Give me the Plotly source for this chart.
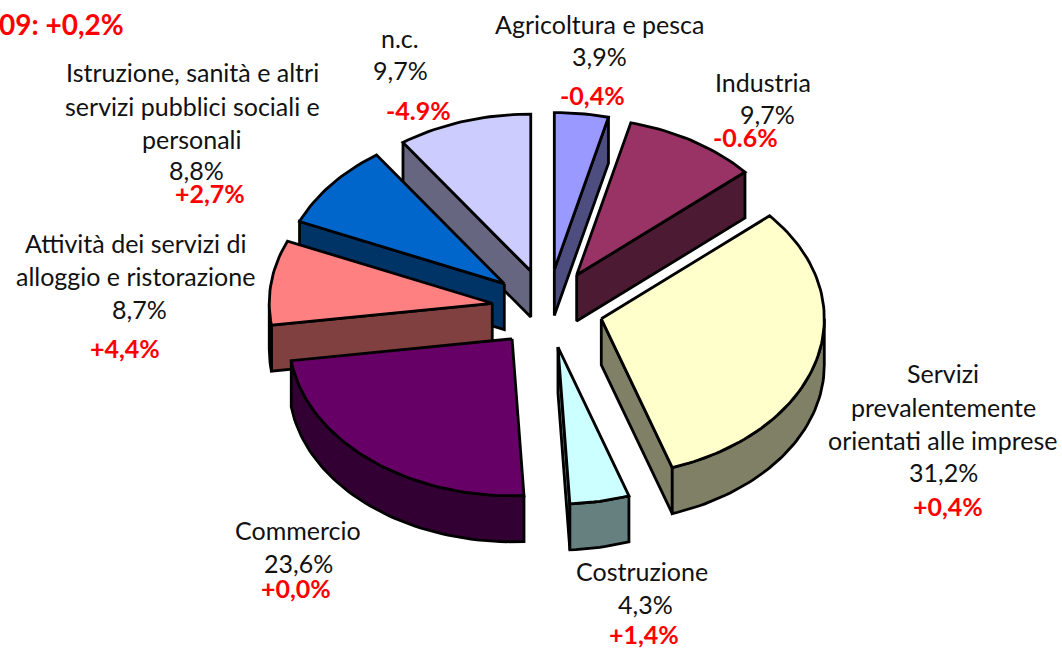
import math
import plotly.graph_objects as go

categories = ["Agricoltura e pesca", "Industria", "Servizi prevalentemente orientati alle imprese",
              "Costruzione", "Commercio", "Attività dei servizi di alloggio e ristorazione",
              "Istruzione, sanità e altri servizi pubblici sociali e personali", "n.c."]
shares = [3.9, 9.7, 31.2, 4.3, 23.6, 8.7, 8.8, 9.7]
top_colors = ["#9999ff", "#993366", "#ffffcc", "#ccffff", "#660066", "#ff8080", "#0066cc", "#ccccff"]
side_colors = ["#4d4d80", "#4d1a33", "#808066", "#668080", "#330033", "#804040", "#003366", "#666680"]
draw_order = [7, 0, 1, 6, 5, 2, 3, 4]

black_labels = [("Agricoltura e pesca", 599, 24), ("3,9%", 599, 56),
                ("Industria", 763, 82), ("9,7%", 767, 114),
                ("Servizi", 943, 373), ("prevalentemente", 943, 407),
                ("orientati alle imprese", 943, 440), ("31,2%", 943, 472),
                ("Costruzione", 642, 571), ("4,3%", 645, 604),
                ("Commercio", 298, 530), ("23,6%", 298, 563),
                ("Attività dei servizi di", 135, 243), ("alloggio e ristorazione", 135, 276), ("8,7%", 139, 309),
                ("Istruzione, sanità e altri", 192, 72), ("servizi pubblici sociali e", 192, 106),
                ("personali", 192, 139), ("8,8%", 196, 170),
                ("n.c.", 400, 38), ("9,7%", 400, 70)]
red_labels = [("-0,4%", 592, 95), ("-0.6%", 745, 137), ("+0,4%", 948, 506), ("+1,4%", 644, 634),
              ("+0,0%", 296, 588), ("+4,4%", 125, 348), ("+2,7%", 210, 193), ("-4.9%", 418, 110)]
red_header = ("09: +0,2%", 124, 24)

W, H = 1062, 648
CX, CY, RX, RY = 547.5, 308.5, 223, 157   # pie centre and ellipse radii in page pixels
EX, EY = 0.25, 0.25                       # explosion, as a fraction of the radius
DEPTH = 46 / 157                          # extrusion, as a fraction of the radius

total = sum(shares)
edges = [0]
for s in shares:
    edges.append(edges[-1] + s / total * 360)


def rim(a, b, ox, oy, dz=0.0):
    n = max(2, int(abs(b - a) / 1.5) + 1)
    pts = [a + (b - a) * i / (n - 1) for i in range(n)]
    return ([ox + math.sin(math.radians(t)) for t in pts],
            [oy + math.cos(math.radians(t)) - dz for t in pts])


fig = go.Figure()


def poly(xs, ys, fill):
    fig.add_trace(go.Scatter(x=xs, y=ys, mode="lines", fill="toself", fillcolor=fill,
                             line=dict(color="black", width=2.8, shape="linear"),
                             hoverinfo="skip", showlegend=False))


for i in draw_order:
    a, b = edges[i], edges[i + 1]
    mid = math.radians((a + b) / 2)
    ox, oy = EX * math.sin(mid), EY * math.cos(mid)
    for t, front in ((a, math.sin(math.radians(a)) < 0), (b, math.sin(math.radians(b)) > 0)):
        if front:
            ex, ey = ox + math.sin(math.radians(t)), oy + math.cos(math.radians(t))
            poly([ox, ex, ex, ox, ox], [oy, ey, ey - DEPTH, oy - DEPTH, oy], side_colors[i])
    lo, hi = max(a, 90), min(b, 270)
    if hi > lo:
        x1, y1 = rim(lo, hi, ox, oy)
        x2, y2 = rim(hi, lo, ox, oy, DEPTH)
        poly(x1 + x2 + x1[:1], y1 + y2 + y1[:1], side_colors[i])
    xr, yr = rim(a, b, ox, oy)
    poly([ox] + xr + [ox], [oy] + yr + [oy], top_colors[i])

FONT = "Lato"
for txt, px, py in black_labels:
    fig.add_annotation(x=px / W, y=1 - py / H, xref="paper", yref="paper", text=txt, showarrow=False,
                       xanchor="center", yanchor="middle", font=dict(family=FONT, size=25, color="#111111"))
for txt, px, py in red_labels:
    fig.add_annotation(x=px / W, y=1 - py / H, xref="paper", yref="paper", text="<b>" + txt + "</b>",
                       showarrow=False, xanchor="center", yanchor="middle",
                       font=dict(family=FONT, size=25, color="#ff0000"))
fig.add_annotation(x=red_header[1] / W, y=1 - red_header[2] / H, xref="paper", yref="paper",
                   text="<b>" + red_header[0] + "</b>", showarrow=False, xanchor="right", yanchor="middle",
                   xshift=2, font=dict(family=FONT, size=28, color="#ff0000"))

fig.update_layout(width=W, height=H, margin=dict(l=0, r=0, t=0, b=0), plot_bgcolor="white",
                  paper_bgcolor="white", showlegend=False,
                  xaxis=dict(range=[(0 - CX) / RX, (W - CX) / RX], visible=False, fixedrange=True),
                  yaxis=dict(range=[(CY - H) / RY, CY / RY], visible=False, fixedrange=True))
fig.write_html("out.html", config={"displayModeBar": False},
               post_script="document.body.style.margin='0';document.documentElement.style.overflow='hidden';")
